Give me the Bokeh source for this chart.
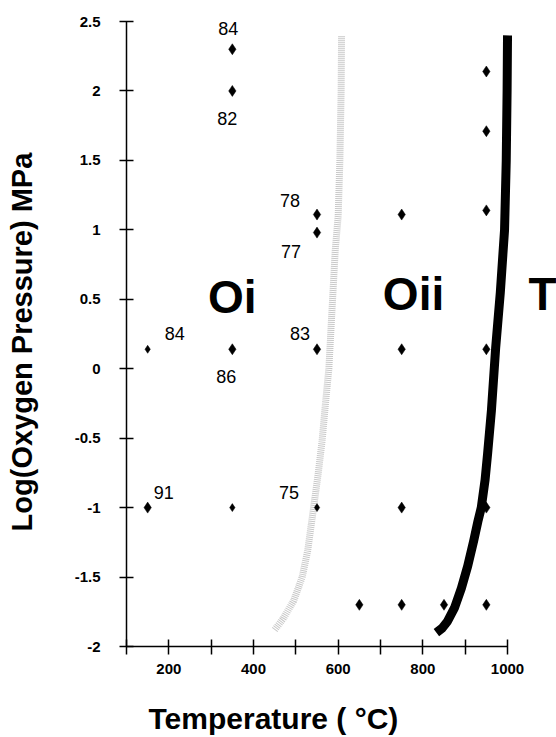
import numpy as np
from bokeh.plotting import figure
from bokeh.models import FixedTicker, Title, ColumnDataSource, Range1d
from bokeh.core.properties import value
from bokeh.embed import file_html
from bokeh.resources import INLINE

# ---------------- data ----------------
# measured samples: temperature (degC) and log10(oxygen pressure / MPa)
pt_temp = [150, 150, 350, 350, 350, 350, 550, 550, 550, 550, 650,
           750, 750, 750, 750, 850, 950, 950, 950, 950, 950, 950]
pt_logp = [0.14, -1.0, 2.3, 2.0, 0.14, -1.0, 1.11, 0.98, 0.14, -1.0, -1.7,
           1.11, 0.14, -1.0, -1.7, -1.7, 2.14, 1.71, 1.14, 0.14, -1.0, -1.7]
pt_size = [8, 11, 11, 11, 11, 8, 11, 11, 11, 8, 11,
           11, 11, 11, 11, 11, 11, 11, 11, 11, 11, 11]

# numbers written next to some samples
ann_text = ["84", "82", "78", "77", "84", "86", "83", "91", "75"]
ann_temp = [350, 350, 550, 550, 150, 350, 550, 150, 550]
ann_logp = [2.3, 2.0, 1.11, 0.98, 0.14, 0.14, 0.14, -1.0, -1.0]
ann_dx = [-4, -5, -27, -26, 27, -6, -17, 16, -28]
ann_dy = [-21, 28, -14, 19, -16, 27, -16, -15, -15]

# Oi / Oii boundary (grey) and Oii / T boundary (black)
gray_temp = [450, 470, 495, 515, 528, 542, 553, 562, 570, 578, 585, 593, 600, 604, 607, 608]
gray_logp = [-1.88, -1.8, -1.67, -1.5, -1.31, -1.0, -0.75, -0.52, -0.25, 0.0, 0.4, 0.85,
             1.1, 1.5, 2.0, 2.4]
black_temp = [832, 845, 858, 875, 891, 906, 920, 930, 938, 947, 953, 962, 972, 983,
              993, 997, 999, 1000]
black_logp = [-1.9, -1.87, -1.82, -1.72, -1.58, -1.42, -1.24, -1.1, -1.0, -0.8, -0.61,
              -0.3, 0.15, 0.55, 1.0, 1.5, 2.0, 2.4]

# phase region names
region_name = ["Oi", "Oii", "T"]
region_temp = [350, 778, 1083]
region_logp = [0.52, 0.54, 0.54]

x_ticks = [100, 200, 300, 400, 500, 600, 700, 800, 900, 1000]
x_tick_labels = ["", "200", "", "400", "", "600", "", "800", "", "1000"]
y_ticks = [-2, -1.5, -1, -0.5, 0, 0.5, 1, 1.5, 2, 2.5]
y_tick_labels = ["-2", "-1.5", "-1", "-0.5", "0", "0.5", "1", "1.5", "2", "2.5"]

x_title = "Temperature  ( \u00b0C)"
y_title = "Log(Oxygen  Pressure)  MPa"

FONT = "Liberation Sans"

# ---------------- figure ----------------
p = figure(width=556, height=737, output_backend="svg", toolbar_location=None,
           x_range=Range1d(100, 1115.7), y_range=Range1d(-2, 2.5),
           min_border_left=126, min_border_right=0, min_border_top=21,
           min_border_bottom=91)
p.outline_line_color = None
p.grid.visible = False
p.background_fill_color = "white"
p.border_fill_color = "white"

for ax, ticks, labels, bnds in ((p.xaxis[0], x_ticks, x_tick_labels, (100, 1000)),
                                (p.yaxis[0], y_ticks, y_tick_labels, (-2, 2.5))):
    ax.ticker = FixedTicker(ticks=ticks, minor_ticks=[])
    ax.major_label_overrides = {t: l for t, l in zip(ticks, labels)}
    ax.bounds = bnds
    ax.axis_line_color = "black"
    ax.axis_line_width = 1.5
    ax.major_tick_line_color = "black"
    ax.major_tick_line_width = 1.5
    ax.minor_tick_line_color = None
    ax.major_label_text_font = FONT
    ax.major_label_text_font_style = "bold"
    ax.major_label_text_font_size = "15px"
    ax.major_label_text_color = "black"

p.xaxis.major_tick_in = 7
p.xaxis.major_tick_out = 8
p.xaxis.major_label_standoff = 9
p.yaxis.major_tick_in = 7
p.yaxis.major_tick_out = 7
p.yaxis.major_label_standoff = 19

# y axis title
p.yaxis.axis_label = y_title
p.yaxis.axis_label_text_font = FONT
p.yaxis.axis_label_text_font_style = "bold"
p.yaxis.axis_label_text_font_size = "29px"
p.yaxis.axis_label_text_color = "black"
p.yaxis.axis_label_standoff = 34

# spacer below the x tick labels, then the x title (left aligned like the original)
p.xaxis.axis_label = " "
p.xaxis.axis_label_text_font_size = "10px"
p.xaxis.axis_label_standoff = 9
xt = Title(text=x_title, align="left", offset=22, vertical_align="bottom",
           text_font=FONT, text_font_style="bold", text_font_size="30px",
           text_color="black")
if "standoff" in Title.properties():
    xt.standoff = 0
p.add_layout(xt, "below")

# boundaries
p.line(gray_temp, gray_logp, line_color="#c8c8c8", line_width=7, line_dash="1 1",
       line_join="round")
p.line(black_temp, black_logp, line_color="black", line_width=9, line_join="round",
       line_cap="butt")

# samples
src = ColumnDataSource(dict(x=pt_temp, y=pt_logp, s=pt_size))
p.scatter("x", "y", size="s", marker="diamond", source=src, fill_color="black",
          line_color="black", line_width=0.5)

# annotations near samples
asrc = ColumnDataSource(dict(x=ann_temp, y=ann_logp, t=ann_text, dx=ann_dx, dy=ann_dy))
p.text("x", "y", text="t", source=asrc, x_offset="dx", y_offset="dy",
       text_font=value(FONT), text_font_size="18px", text_align="center",
       text_baseline="middle", text_color="black")

# region names
rsrc = ColumnDataSource(dict(x=region_temp, y=region_logp, t=region_name))
p.text("x", "y", text="t", source=rsrc, text_font=value(FONT), text_font_size="46px",
       text_font_style="bold", text_align="center", text_baseline="alphabetic",
       text_color="black")

open("out.html", "w").write(file_html(p, INLINE))
